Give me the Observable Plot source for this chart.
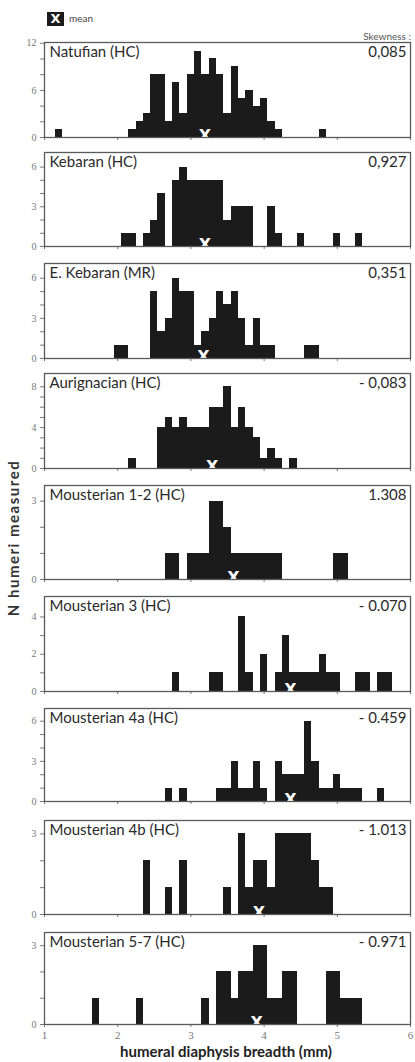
<!DOCTYPE html>
<html><head><meta charset="utf-8">
<script src="https://cdn.jsdelivr.net/npm/d3@7"></script>
<script src="https://cdn.jsdelivr.net/npm/@observablehq/plot@0.6"></script>
<style>
body{margin:0;background:#fff;}
#chart{position:relative;width:415px;height:1062px;font-family:Lato,sans-serif;overflow:hidden;}
#chart svg{position:absolute;left:0;overflow:visible;}
.abs{position:absolute;white-space:nowrap;}
</style></head><body><div id="chart"></div>
<script>
// ---- data (bin centre in mm, count), bins 0.1 mm wide ----
const panelNames = ["Natufian (HC)","Kebaran (HC)","E. Kebaran (MR)","Aurignacian (HC)","Mousterian 1-2 (HC)","Mousterian 3 (HC)","Mousterian 4a (HC)","Mousterian 4b (HC)","Mousterian 5-7 (HC)"];
const skewness = ["0,085","0,927","0,351","- 0,083","1.308","- 0.070","- 0.459","- 1.013","- 0.971"];
const means = [3.19, 3.19, 3.17, 3.29, 3.58, 4.36, 4.36, 3.93, 3.90];

const natufian = [[1.2,1],[2.2,1],[2.3,2],[2.4,3],[2.5,8],[2.6,8],[2.7,2],[2.8,7],[2.9,3],[3.0,8],[3.1,11],[3.2,8],[3.3,10],[3.4,8],[3.5,3],[3.6,9],[3.7,5],[3.8,6],[3.9,4],[4.0,5],[4.1,2],[4.2,1],[4.8,1]];
const kebaran = [[2.1,1],[2.2,1],[2.4,1],[2.5,2],[2.6,4],[2.8,5],[2.9,6],[3.0,5],[3.1,5],[3.2,5],[3.3,5],[3.4,5],[3.5,2],[3.6,3],[3.7,3],[3.8,3],[4.1,3],[4.2,1],[4.5,1],[5.0,1],[5.3,1]];
const eKebaran = [[2.0,1],[2.1,1],[2.5,5],[2.6,2],[2.7,3],[2.8,6],[2.9,5],[3.0,5],[3.1,1],[3.2,2],[3.3,3],[3.4,5],[3.5,4],[3.6,5],[3.7,3],[3.8,1],[3.9,3],[4.0,1],[4.1,1],[4.6,1],[4.7,1]];
const aurignacian = [[2.2,1],[2.6,4],[2.7,5],[2.8,4],[2.9,5],[3.0,4],[3.1,4],[3.2,4],[3.3,6],[3.4,6],[3.5,8],[3.6,4],[3.7,6],[3.8,4],[3.9,3],[4.0,1],[4.1,2],[4.2,1],[4.4,1]];
const mousterian12 = [[2.7,1],[2.8,1],[3.0,1],[3.1,1],[3.2,1],[3.3,3],[3.4,3],[3.5,2],[3.6,1],[3.7,1],[3.8,1],[3.9,1],[4.0,1],[4.1,1],[4.2,1],[5.0,1],[5.1,1]];
const mousterian3 = [[2.8,1],[3.3,1],[3.4,1],[3.7,4],[3.8,1],[4.0,2],[4.2,1],[4.3,3],[4.4,1],[4.5,1],[4.6,1],[4.7,1],[4.8,2],[4.9,1],[5.0,1],[5.3,1],[5.4,1],[5.6,1],[5.7,1]];
const mousterian4a = [[2.7,1],[2.9,1],[3.4,1],[3.5,1],[3.6,3],[3.7,1],[3.8,1],[3.9,3],[4.0,1],[4.2,3],[4.3,2],[4.4,2],[4.5,2],[4.6,6],[4.7,3],[4.8,1],[4.9,1],[5.0,2],[5.1,1],[5.2,1],[5.3,1],[5.6,1]];
const mousterian4b = [[2.4,2],[2.7,1],[2.9,2],[3.5,1],[3.7,3],[3.8,1],[3.9,2],[4.0,2],[4.1,1],[4.2,3],[4.3,3],[4.4,3],[4.5,3],[4.6,3],[4.7,2],[4.8,1],[4.9,1]];
const mousterian57 = [[1.7,1],[2.3,1],[3.2,1],[3.4,2],[3.5,2],[3.6,1],[3.7,2],[3.8,2],[3.9,3],[4.0,3],[4.1,1],[4.2,1],[4.3,2],[4.4,2],[4.9,2],[5.0,2],[5.1,1],[5.2,1],[5.3,1]];

const yMajorTicks = [[0,6,12],[0,3,6],[0,3,6],[0,4,8],[0,3],[0,2,4],[0,3,6],[0,3],[0,3]];
const xTickValues = [1,2,3,4,5,6];
const xLabel = "humeral diaphysis breadth (mm)";
const yLabel = "N humeri measured";

// ---- layout ----
const series = [natufian,kebaran,eKebaran,aurignacian,mousterian12,mousterian3,mousterian4a,mousterian4b,mousterian57];
const yMax = [12.1, 7.1, 7.1, 9.3, 3.6, 5.1, 6.95, 3.5, 3.5];
const yMinorStep = [2,1,1,1,1,1,1,1,1];
const frameTop = [42,152,263,373,485,596,708,820,932];
const frameBottom = [137,246,358,468,579,691,801,914,1024];
const chart = document.getElementById("chart");
const binHalf = 0.05;

series.forEach((data, i) => {
  const mt = 4, mb = (i === 8) ? 20 : 8;
  const h = frameBottom[i] - frameTop[i];
  const majors = yMajorTicks[i];
  const top = majors[majors.length - 1];
  const minor = d3.range(0, top + 0.001, yMinorStep[i]);
  const svg = Plot.plot({
    width: 415, height: h + mt + mb,
    marginTop: mt, marginBottom: mb, marginLeft: 44, marginRight: 5,
    x: {domain: [1, 6]},
    y: {domain: [0, yMax[i]]},
    style: {fontFamily: "'Liberation Serif', serif", fontSize: "10px", color: "#777", background: "transparent"},
    marks: [
      Plot.rect(data, {x1: d => d[0] - binHalf, x2: d => d[0] + binHalf, y1: 0, y2: d => d[1], fill: "#1b1b1b", shapeRendering: "crispEdges"}),
      Plot.text([means[i]], {x: d => d, y: 0, text: () => "X", fill: "#fff", fontWeight: "bold", fontSize: 16, fontFamily: "'DejaVu Sans', sans-serif", lineAnchor: "bottom", dy: 3}),
      Plot.axisY({ticks: minor, tickSize: 4, tickPadding: 4, color: "#777", fontSize: 10,
        tickFormat: d => majors.includes(d) ? String(d) : ""}),
      Plot.axisX({ticks: xTickValues, tickSize: 3, tickPadding: 4, color: "#777", fontSize: 11,
        tickFormat: i === 8 ? (d => String(d)) : (() => "")}),
      Plot.frame({stroke: "#5a5a5a", strokeWidth: 1.3}),
      Plot.text([panelNames[i]], {frameAnchor: "top-left", dx: 5, dy: 4, fontSize: 15, fill: "#2a2a2a", fontFamily: "Lato, sans-serif"}),
      Plot.text([skewness[i]], {frameAnchor: "top-right", dx: -4, dy: 4, fontSize: 15, fill: "#2a2a2a", fontFamily: "Lato, sans-serif"})
    ]
  });
  svg.style.top = (frameTop[i] - mt) + "px";
  chart.appendChild(svg);
});

// legend
const box = document.createElement("div");
box.className = "abs";
Object.assign(box.style, {left: "47px", top: "12px", width: "17px", height: "14px", background: "#1b1b1b", color: "#fff",
  font: "bold 13px 'DejaVu Sans', sans-serif", lineHeight: "14px", textAlign: "center"});
box.textContent = "X";
chart.appendChild(box);
const meanTxt = document.createElement("div");
meanTxt.className = "abs";
Object.assign(meanTxt.style, {left: "69px", top: "12px", font: "10px Lato, sans-serif", color: "#444"});
meanTxt.textContent = "mean";
chart.appendChild(meanTxt);
const skewTxt = document.createElement("div");
skewTxt.className = "abs";
Object.assign(skewTxt.style, {right: "4px", top: "30px", font: "10px Lato, sans-serif", color: "#555"});
skewTxt.textContent = "Skewness :";
chart.appendChild(skewTxt);

// axis titles
const xl = document.createElement("div");
xl.className = "abs";
Object.assign(xl.style, {left: "0px", width: "452px", top: "1042px", textAlign: "center", font: "bold 15px Lato, sans-serif", color: "#222"});
xl.textContent = xLabel;
chart.appendChild(xl);
const yl = document.createElement("div");
yl.className = "abs";
Object.assign(yl.style, {left: "13px", top: "538px", transform: "translate(-50%,-50%) rotate(-90deg)", font: "bold 15px Lato, sans-serif", letterSpacing: "1.5px", color: "#333"});
yl.textContent = yLabel;
chart.appendChild(yl);
</script>
</body></html>
